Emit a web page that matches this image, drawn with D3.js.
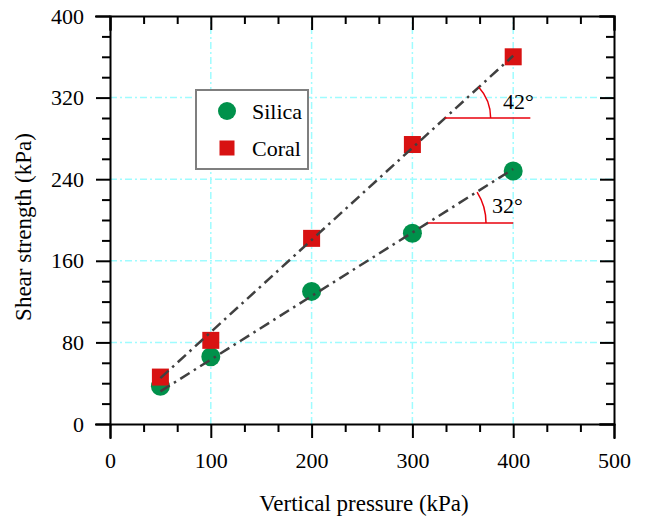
<!DOCTYPE html>
<html>
<head>
<meta charset="utf-8">
<script src="https://cdn.jsdelivr.net/npm/d3@7"></script>
<style>
  body { margin: 0; background: #fff; }
  .axis path, .axis line { stroke: #000; stroke-width: 2; }
</style>
</head>
<body>
<svg id="chart" width="651" height="524"></svg>
<script>
'use strict'

// data
const pressure = [50, 100, 200, 300, 400]
const silica = [37, 66, 130, 187, 248]
const coral = [46, 82, 182, 274, 360]
// fitted lines (end points)
const fitX = [50, 400]
const silicaFit = [32, 250]
const coralFit = [45, 361]
// angle marks: base point on the line, end of the horizontal, label
const angleBaseX = [332, 315.5]
const angleBaseY = [300, 197]
const angleEndX = [417, 400]
const angleRadius = [46, 58]
const angleText = ['42°', '32°']
const angleTextX = [390, 379]
const angleTextY = [309, 207]

const xTicks = [0, 100, 200, 300, 400, 500]
const yTicks = [0, 80, 160, 240, 320, 400]
const xMinor = d3.range(0, 500, 100 / 3).filter((v, i) => i % 3 !== 0)
const yMinor = d3.range(0, 400, 20).filter(v => v % 80 !== 0)
const seriesNames = ['Silica', 'Coral']

const green = '#00914b', red = '#d81212'
const FONT = 'Liberation Serif'

const svg = d3.select('#chart').attr('font-family', FONT)
const x = d3.scaleLinear().domain([0, 500]).range([110, 614])
const y = d3.scaleLinear().domain([0, 400]).range([424, 16])

// grid lines
const grid = svg.append('g')
  .attr('stroke', '#9ffcff')
  .attr('stroke-width', 1.5)
  .attr('stroke-dasharray', '7,3,2,3')
grid.selectAll('.gx').data(xTicks.slice(1, -1)).enter().append('line')
  .attr('x1', d => x(d)).attr('x2', d => x(d))
  .attr('y1', y(0)).attr('y2', y(400))
grid.selectAll('.gy').data(yTicks.slice(1, -1)).enter().append('line')
  .attr('y1', d => y(d)).attr('y2', d => y(d))
  .attr('x1', x(0)).attr('x2', x(500))

// legend
const legend = svg.append('g')
legend.append('rect')
  .attr('x', 196).attr('y', 90).attr('width', 112).attr('height', 79)
  .attr('fill', '#fff').attr('stroke', '#7f7f7f').attr('stroke-width', 2)
legend.append('circle').attr('cx', 227).attr('cy', 111).attr('r', 9).attr('fill', green)
legend.append('rect').attr('x', 219.5).attr('y', 140.5).attr('width', 15).attr('height', 15).attr('fill', red)
legend.selectAll('text').data(seriesNames).enter().append('text')
  .attr('x', 252).attr('y', (d, i) => 111 + i * 37)
  .attr('dy', '0.35em')
  .attr('font-family', FONT)
  .attr('font-size', 22)
  .text(d => d)

// markers
svg.append('g').selectAll('circle').data(pressure).enter().append('circle')
  .attr('cx', d => x(d))
  .attr('cy', (d, i) => y(silica[i]))
  .attr('r', 9.5)
  .attr('fill', green)
svg.append('g').selectAll('rect').data(pressure).enter().append('rect')
  .attr('x', d => x(d) - 8.5)
  .attr('y', (d, i) => y(coral[i]) - 8.5)
  .attr('width', 17).attr('height', 17)
  .attr('fill', red)

// fitted lines
const line = d3.line().x(d => x(d[0])).y(d => y(d[1]))
;[silicaFit, coralFit].forEach(f => {
  svg.append('path')
    .attr('d', line(fitX.map((v, i) => [v, f[i]])))
    .attr('fill', 'none')
    .attr('stroke', '#404040')
    .attr('stroke-width', 2.5)
    .attr('stroke-dasharray', '11,5,2.5,5')
})

// angle marks
const fits = [coralFit, silicaFit]
angleText.forEach((t, i) => {
  const bx = x(angleBaseX[i]), by = y(angleBaseY[i])
  const f = fits[i]
  const ang = Math.atan2(y(f[0]) - y(f[1]), x(fitX[1]) - x(fitX[0]))
  const r = angleRadius[i]
  svg.append('line')
    .attr('x1', bx).attr('y1', by).attr('x2', x(angleEndX[i])).attr('y2', by)
    .attr('stroke', '#e8000b').attr('stroke-width', 1.5)
  svg.append('path')
    .attr('d', 'M' + (bx + r) + ',' + by + ' A' + r + ',' + r + ' 0 0 0 ' +
      (bx + r * Math.cos(ang)) + ',' + (by - r * Math.sin(ang)))
    .attr('fill', 'none').attr('stroke', '#e8000b').attr('stroke-width', 1.5)
  svg.append('text')
    .attr('x', x(angleTextX[i])).attr('y', y(angleTextY[i]))
    .attr('font-family', FONT)
    .attr('font-size', 22)
    .text(t)
})

// axes
const ax = (gen, tx, ty) => svg.append('g').attr('class', 'axis')
  .attr('transform', 'translate(' + tx + ',' + ty + ')').call(gen)
  .attr('font-family', FONT).attr('font-size', 22)

ax(d3.axisBottom(x).tickValues(xTicks).tickSize(14).tickPadding(14).tickFormat(d3.format('d')), 0, y(0))
ax(d3.axisBottom(x).tickValues(xMinor).tickSize(8).tickFormat(''), 0, y(0)).select('.domain').remove()
ax(d3.axisTop(x).tickValues(xTicks).tickSize(-14).tickFormat(''), 0, y(400))
ax(d3.axisTop(x).tickValues(xMinor).tickSize(-8).tickFormat(''), 0, y(400)).select('.domain').remove()
ax(d3.axisLeft(y).tickValues(yTicks).tickSize(14).tickPadding(12), x(0), 0)
ax(d3.axisLeft(y).tickValues(yMinor).tickSize(8).tickFormat(''), x(0), 0).select('.domain').remove()
ax(d3.axisRight(y).tickValues(yTicks).tickSize(-14).tickFormat(''), x(500), 0)
ax(d3.axisRight(y).tickValues(yMinor).tickSize(-8).tickFormat(''), x(500), 0).select('.domain').remove()
svg.selectAll('.axis .domain').attr('stroke-linecap', 'square')
svg.selectAll('.axis text').attr('fill', '#000')

// axis titles
svg.append('text')
  .attr('x', 364).attr('y', 511)
  .attr('text-anchor', 'middle')
  .attr('font-family', FONT)
  .attr('font-size', 23)
  .text('Vertical pressure (kPa)')
svg.append('text')
  .attr('transform', 'translate(31,227) rotate(-90)')
  .attr('text-anchor', 'middle')
  .attr('font-family', FONT)
  .attr('font-size', 23)
  .text('Shear strength (kPa)')
</script>
</body>
</html>
